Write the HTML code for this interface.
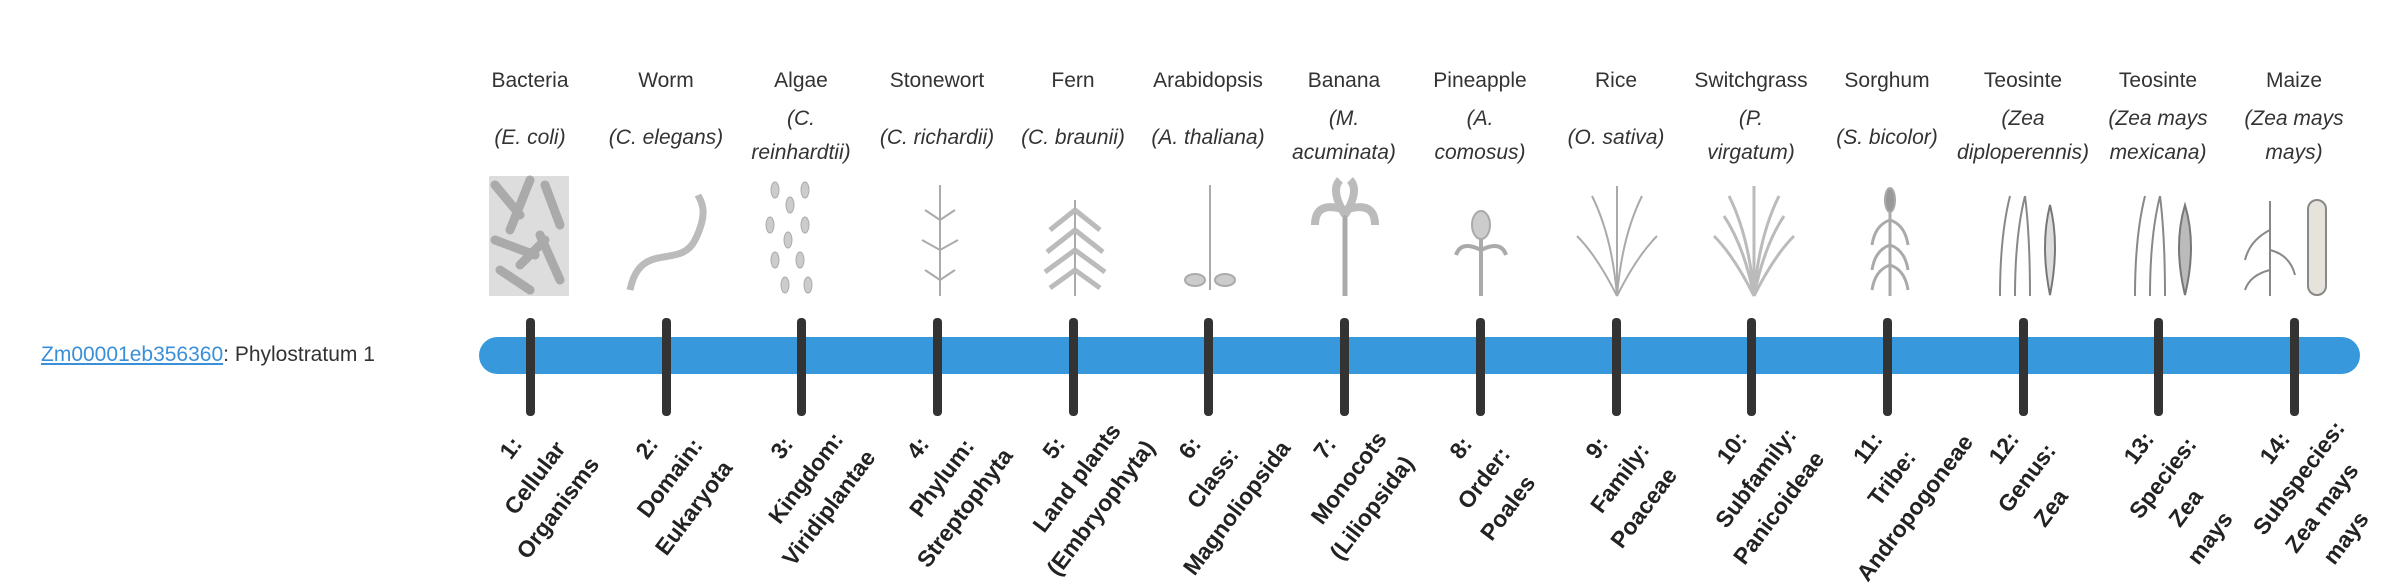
<!DOCTYPE html>
<html><head><meta charset="utf-8"><style>
body{margin:0;width:2400px;height:580px;background:#fff;position:relative;overflow:hidden;font-family:"Liberation Sans",sans-serif;color:#333}
.a{position:absolute}
.cn{position:absolute;top:68px;width:136px;text-align:center;font-size:21px;line-height:26px}
.sn{position:absolute;width:136px;text-align:center;font-size:21px;line-height:34px;font-style:italic;white-space:nowrap}
.tk{position:absolute;top:318px;width:9px;height:98px;background:#333;border-radius:4px}
.bl{position:absolute;font-weight:bold;font-size:23px;white-space:nowrap;transform:translate(-50%,-50%) rotate(-53deg);color:#222}
</style></head><body>
<div class="a" style="left:41px;top:341px;font-size:21px;line-height:28px"><span style="color:#3a8fd9;text-decoration:underline">Zm00001eb356360</span>: Phylostratum 1</div>
<div class="a" style="left:479px;top:337px;width:1881px;height:37px;background:#3799dc;border-radius:19px"></div>
<svg class="a" style="left:0;top:0" width="2400" height="320" fill="none" stroke="#999" stroke-width="2">
<g>
<rect x="489" y="176" width="80" height="120" fill="#ddd" stroke="none"/>
<g stroke="#aaa" stroke-width="9" stroke-linecap="round">
<line x1="495" y1="185" x2="520" y2="215"/><line x1="530" y1="180" x2="510" y2="230"/><line x1="545" y1="185" x2="560" y2="225"/><line x1="495" y1="240" x2="535" y2="255"/><line x1="540" y1="235" x2="560" y2="280"/><line x1="500" y1="270" x2="530" y2="290"/><line x1="520" y1="265" x2="545" y2="240"/></g>
<path d="M630 290 C640 240,680 270,695 240 S700 200,698 195" stroke="#bbb" stroke-width="7"/>
<g fill="#ccc" stroke="#aaa" stroke-width="1">
<ellipse cx="775" cy="190" rx="4" ry="8"/><ellipse cx="790" cy="205" rx="4" ry="8"/><ellipse cx="805" cy="190" rx="4" ry="8"/><ellipse cx="770" cy="225" rx="4" ry="8"/><ellipse cx="788" cy="240" rx="4" ry="8"/><ellipse cx="805" cy="225" rx="4" ry="8"/><ellipse cx="775" cy="260" rx="4" ry="8"/><ellipse cx="800" cy="260" rx="4" ry="8"/><ellipse cx="785" cy="285" rx="4" ry="8"/><ellipse cx="808" cy="285" rx="4" ry="8"/></g>
<g stroke="#aaa"><line x1="940" y1="185" x2="940" y2="296"/><path d="M925 210 L940 220 L955 210 M922 240 L940 250 L958 240 M925 270 L940 280 L955 270"/>
<line x1="1075" y1="200" x2="1075" y2="296"/><path d="M1075 210 l-25 20 M1075 210 l25 20 M1075 230 l-28 22 M1075 230 l28 22 M1075 250 l-30 22 M1075 250 l30 22 M1075 270 l-25 18 M1075 270 l25 18" stroke-width="5" stroke="#bbb"/>
<line x1="1210" y1="185" x2="1210" y2="290"/><ellipse cx="1195" cy="280" rx="10" ry="6" fill="#ccc"/><ellipse cx="1225" cy="280" rx="10" ry="6" fill="#ccc"/>
<line x1="1345" y1="210" x2="1345" y2="296" stroke-width="5"/><path d="M1345 210 q-30 -10 -30 15 M1345 210 q30 -10 30 15 M1345 215 q-15 -25 -5 -35 M1345 215 q15 -25 5 -35" stroke-width="8" stroke="#bbb"/>
<path d="M1481 296 v-60 M1481 250 q-20 -10 -25 5 M1481 250 q20 -10 25 5" stroke-width="4"/><ellipse cx="1481" cy="225" rx="9" ry="14" fill="#ccc"/>
<path d="M1617 296 q-5 -60 -25 -100 M1617 296 q5 -60 25 -100 M1617 296 q0 -60 0 -110 M1617 296 q-20 -40 -40 -60 M1617 296 q20 -40 40 -60"/>
<path d="M1754 296 q-5 -60 -25 -100 M1754 296 q5 -60 25 -100 M1754 296 q0 -60 0 -110 M1754 296 q-20 -40 -40 -60 M1754 296 q20 -40 40 -60 M1754 296 q-10 -50 -30 -80 M1754 296 q10 -50 30 -80" stroke="#bbb" stroke-width="3"/>
<path d="M1890 296 v-90 M1890 220 q-15 5 -18 25 M1890 220 q15 5 18 25 M1890 245 q-15 5 -18 25 M1890 245 q15 5 18 25 M1890 265 q-15 5 -18 25 M1890 265 q15 5 18 25" stroke-width="3"/><ellipse cx="1890" cy="200" rx="5" ry="12" fill="#999"/>
<path d="M2000 296 q0 -60 10 -100 M2015 296 q0 -60 10 -100 M2030 296 q0 -60 -5 -100" stroke="#888"/><path d="M2050 295 q-10 -50 0 -90 q10 40 0 90 z" stroke="#777" fill="#ddd"/>
<path d="M2135 296 q0 -60 10 -100 M2150 296 q0 -60 10 -100 M2165 296 q0 -60 -5 -100" stroke="#888"/><path d="M2185 295 q-12 -50 0 -90 q12 40 0 90 z" stroke="#777" fill="#bbb"/>
<path d="M2270 296 v-95 M2270 230 q-20 10 -25 30 M2270 250 q20 5 25 25 M2270 270 q-20 5 -25 20" stroke="#888"/><rect x="2308" y="200" width="18" height="95" rx="9" fill="#e6e3dc" stroke="#888"/>
</g></g></svg>
<div class="tk" style="left:526px"></div><div class="tk" style="left:662px"></div><div class="tk" style="left:797px"></div><div class="tk" style="left:933px"></div><div class="tk" style="left:1069px"></div><div class="tk" style="left:1204px"></div><div class="tk" style="left:1340px"></div><div class="tk" style="left:1476px"></div><div class="tk" style="left:1612px"></div><div class="tk" style="left:1747px"></div><div class="tk" style="left:1883px"></div><div class="tk" style="left:2019px"></div><div class="tk" style="left:2154px"></div><div class="tk" style="left:2290px"></div>

<div class="cn" style="left:462px">Bacteria</div><div class="cn" style="left:598px">Worm</div><div class="cn" style="left:733px">Algae</div><div class="cn" style="left:869px">Stonewort</div><div class="cn" style="left:1005px">Fern</div><div class="cn" style="left:1140px">Arabidopsis</div><div class="cn" style="left:1276px">Banana</div><div class="cn" style="left:1412px">Pineapple</div><div class="cn" style="left:1548px">Rice</div><div class="cn" style="left:1683px">Switchgrass</div><div class="cn" style="left:1819px">Sorghum</div><div class="cn" style="left:1955px">Teosinte</div><div class="cn" style="left:2090px">Teosinte</div><div class="cn" style="left:2226px">Maize</div>

<div class="sn" style="left:462px;top:121px">(E. coli)</div>
<div class="sn" style="left:598px;top:121px">(C. elegans)</div>
<div class="sn" style="left:733px;top:102px">(C.<br>reinhardtii)</div>
<div class="sn" style="left:869px;top:121px">(C. richardii)</div>
<div class="sn" style="left:1005px;top:121px">(C. braunii)</div>
<div class="sn" style="left:1140px;top:121px">(A. thaliana)</div>
<div class="sn" style="left:1276px;top:102px">(M.<br>acuminata)</div>
<div class="sn" style="left:1412px;top:102px">(A.<br>comosus)</div>
<div class="sn" style="left:1548px;top:121px">(O. sativa)</div>
<div class="sn" style="left:1683px;top:102px">(P.<br>virgatum)</div>
<div class="sn" style="left:1819px;top:121px">(S. bicolor)</div>
<div class="sn" style="left:1955px;top:102px">(Zea<br>diploperennis)</div>
<div class="sn" style="left:2090px;top:102px">(Zea mays<br>mexicana)</div>
<div class="sn" style="left:2226px;top:102px">(Zea mays<br>mays)</div>

<div id="bot"></div>
<script>
var cols=[["1:","Cellular","Organisms"],["2:","Domain:","Eukaryota"],["3:","Kingdom:","Viridiplantae"],["4:","Phylum:","Streptophyta"],["5:","Land plants","(Embryophyta)"],["6:","Class:","Magnoliopsida"],["7:","Monocots","(Liliopsida)"],["8:","Order:","Poales"],["9:","Family:","Poaceae"],["10:","Subfamily:","Panicoideae"],["11:","Tribe:","Andropogoneae"],["12:","Genus:","Zea"],["13:","Species:","Zea","mays"],["14:","Subspecies:","Zea mays","mays"]];
var h="";
cols.forEach(function(c,i){var t=530+135.7*i;c.forEach(function(s,k){var x=t-19+23.5*k,y=448+30*k;h+='<div class="bl" style="left:'+x+'px;top:'+y+'px">'+s+'</div>';});});
document.getElementById("bot").innerHTML=h;
</script>
</body></html>
